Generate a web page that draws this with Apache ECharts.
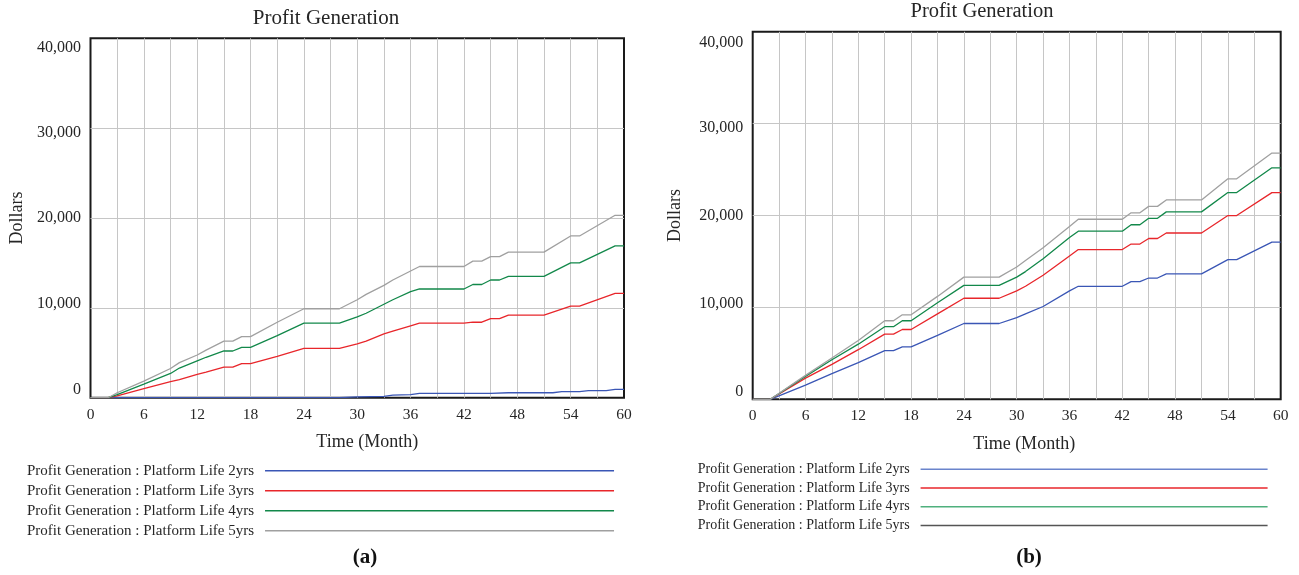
<!DOCTYPE html>
<html>
<head>
<meta charset="utf-8">
<script src="https://cdn.jsdelivr.net/npm/echarts@6/dist/echarts.min.js"></script>
<style>
  html, body { margin: 0; padding: 0; background: #fff; }
  #chart { width: 1299px; height: 575px; }
</style>
</head>
<body>
<div id="chart"></div>
<script>
// ---------- data ----------
const chartTitle = 'Profit Generation';
const xAxisName = 'Time (Month)';
const yAxisName = 'Dollars';
const seriesNames = [
  'Profit Generation : Platform Life 2yrs',
  'Profit Generation : Platform Life 3yrs',
  'Profit Generation : Platform Life 4yrs',
  'Profit Generation : Platform Life 5yrs'
];
const panelLabels = ['(a)', '(b)'];

// Panel (a)
const monthsA = [0,2,3,6,9,10,12,13,15,16,17,18,21,24,28,30,31,33,34,36,37,42,43,44,45,46,47,51,54,55,59,60];
const a3yrs = [0,0,200,1000,1800,2000,2600,2850,3400,3400,3800,3800,4600,5500,5500,6000,6300,7100,7400,8000,8300,8300,8400,8400,8800,8800,9200,9200,10200,10200,11600,11600];
const a4yrs = [0,0,350,1500,2700,3300,4100,4500,5200,5200,5600,5600,6900,8300,8300,9000,9400,10400,10900,11800,12100,12100,12600,12600,13100,13100,13500,13500,15000,15000,16900,16900];
const a5yrs = [0,0,550,1850,3250,3900,4750,5300,6300,6300,6800,6800,8400,9900,9900,10900,11500,12500,13100,14100,14600,14600,15200,15200,15700,15700,16200,16200,18000,18000,20300,20300];
const monthsA2 = [0,28,30,33,34,36,37,45,47,52,53,55,56,58,59,60];
const a2yrs = [0,0,100,150,280,350,480,480,550,550,670,670,780,780,920,920];

// Panel (b)
const monthsB = [0,2,6,9,12,15,16,17,18,21,24,28,30,31,33,36,37,42,43,44,45,46,47,51,54,55,59,60];
const b2yrs = [0,0,1550,2800,4000,5300,5300,5700,5700,6950,8250,8250,8900,9300,10100,11800,12300,12300,12800,12800,13200,13200,13650,13650,15200,15200,17100,17100];
const b3yrs = [0,0,2300,3800,5400,7100,7100,7600,7600,9300,11000,11000,11800,12300,13500,15600,16300,16300,16900,16900,17500,17500,18100,18100,20000,20000,22500,22500];
const b4yrs = [0,0,2500,4300,6000,7900,7900,8550,8550,10500,12400,12400,13300,13900,15300,17600,18300,18300,19000,19000,19700,19700,20400,20400,22500,22500,25200,25200];
const b5yrs = [0,0,2600,4500,6400,8550,8550,9200,9200,11200,13300,13300,14400,15100,16500,18800,19600,19600,20300,20300,21000,21000,21700,21700,24000,24000,26800,26800];

const xTicks = [0,6,12,18,24,30,36,42,48,54,60];
const yTicks = [0,10000,20000,30000,40000];

// ---------- styling ----------
const FONT = "'Liberation Serif', 'Times New Roman', serif";
const TXT = '#262626';
const colors = ['#3a56b5', '#e8262b', '#12884a', '#a0a0a0'];
const legendColorsB = ['#6a84cc', '#e8262b', '#4fb07d', '#555555'];

function zip(xs, ys) { return xs.map((x, i) => [x, ys[i]]); }
function fmt(v) { return v.toLocaleString('en-US'); }

// vertical nudges of y labels (end labels pulled inward, as in the source)
const yShiftA = [-8.4, -4, 0, 4.5, 9.7];
const yShiftB = [-7.6, -4, 0, 4.4, 10.7];
function yRich(shifts) {
  const r = {};
  shifts.forEach((s, i) => {
    const pad = Math.abs(s) * 2;
    r['l' + i] = {
      fontFamily: FONT, fontSize: 16, color: TXT,
      padding: s >= 0 ? [pad, 0, 0, 0] : [0, 0, pad, 0]
    };
  });
  return r;
}

const grids = [
  { left: 90.5, top: 38.3, width: 533.5, height: 359.4 },
  { left: 752.7, top: 31.8, width: 528, height: 367.5 }
];
const GRIDCOL = '#c6c6c6';

function xAxisFor(i, nameShift) {
  return {
    type: 'value', gridIndex: i, min: 0, max: 60, interval: 6,
    name: xAxisName, nameLocation: 'middle', nameGap: 36,
    nameTextStyle: { fontFamily: FONT, fontSize: 18, color: TXT, padding: [0, 0, 0, nameShift] },
    axisLine: { show: false }, axisTick: { show: false },
    axisLabel: {
      fontFamily: FONT, fontSize: 15.5, color: TXT, margin: 9,
      formatter: v => xTicks.includes(v) ? String(v) : ''
    },
    splitLine: { show: true, showMinLine: false, showMaxLine: false, lineStyle: { color: GRIDCOL, width: 1 } },
    minorTick: { show: false, splitNumber: 2 },
    minorSplitLine: { show: true, lineStyle: { color: GRIDCOL, width: 1 } }
  };
}
function yAxisFor(i, shifts, gap) {
  return {
    type: 'value', gridIndex: i, min: 0, max: 40000, interval: 10000,
    name: yAxisName, nameLocation: 'middle', nameGap: gap, nameRotate: 90,
    nameTextStyle: { fontFamily: FONT, fontSize: 18, color: TXT },
    axisLine: { show: false }, axisTick: { show: false },
    axisLabel: {
      margin: 9.5,
      formatter: v => '{l' + yTicks.indexOf(v) + '|' + fmt(v) + '}',
      rich: yRich(shifts)
    },
    splitLine: { show: true, showMinLine: false, showMaxLine: false, lineStyle: { color: GRIDCOL, width: 1 } }
  };
}

function line(name, data, idx, color) {
  return {
    name, type: 'line', xAxisIndex: idx, yAxisIndex: idx, data,
    showSymbol: false, symbol: 'none', animation: false,
    lineStyle: { color, width: 1.3 }, itemStyle: { color },
    emphasis: { disabled: true }
  };
}

const option = {
  backgroundColor: '#fff',
  animation: false,
  title: [
    { text: chartTitle, left: 321, top: 3, textAlign: 'center',
      textStyle: { fontFamily: FONT, fontSize: 21, fontWeight: 'normal', color: TXT } },
    { text: chartTitle, left: 977, top: -4, textAlign: 'center',
      textStyle: { fontFamily: FONT, fontSize: 20.5, fontWeight: 'normal', color: TXT } },
    { text: panelLabels[0], left: 360, top: 542, textAlign: 'center',
      textStyle: { fontFamily: FONT, fontSize: 21, fontWeight: 'bold', color: '#111' } },
    { text: panelLabels[1], left: 1024, top: 542, textAlign: 'center',
      textStyle: { fontFamily: FONT, fontSize: 21, fontWeight: 'bold', color: '#111' } }
  ],
  grid: grids.map(g => Object.assign({ show: true, borderColor: '#1a1a1a', borderWidth: 2, backgroundColor: 'transparent' }, g)),
  xAxis: [xAxisFor(0, 20), xAxisFor(1, 15)],
  yAxis: [yAxisFor(0, yShiftA, 64), yAxisFor(1, yShiftB, 68)],
  legend: [
    {
      orient: 'vertical', left: 27, top: 460.7, align: 'right', padding: 0,
      icon: 'rect', itemWidth: 349, itemHeight: 1.5, itemGap: 0,
      selectedMode: false,
      textStyle: { fontFamily: FONT, fontSize: 15, color: TXT, lineHeight: 20, padding: [0, 6, 0, 0] },
      data: seriesNames.map((n, i) => ({ name: n, itemStyle: { color: colors[i] } }))
    },
    {
      orient: 'vertical', left: 697.7, top: 460, align: 'right', padding: 0,
      icon: 'rect', itemWidth: 347, itemHeight: 1.5, itemGap: 0,
      selectedMode: false,
      textStyle: { fontFamily: FONT, fontSize: 14, color: TXT, lineHeight: 18.7, padding: [0, 6, 0, 0] },
      data: seriesNames.map((n, i) => ({ name: n, itemStyle: { color: legendColorsB[i] } }))
    }
  ],
  series: [
    line(seriesNames[0], zip(monthsA2, a2yrs), 0, colors[0]),
    line(seriesNames[1], zip(monthsA, a3yrs), 0, colors[1]),
    line(seriesNames[2], zip(monthsA, a4yrs), 0, colors[2]),
    line(seriesNames[3], zip(monthsA, a5yrs), 0, colors[3]),
    line(seriesNames[0], zip(monthsB, b2yrs), 1, colors[0]),
    line(seriesNames[1], zip(monthsB, b3yrs), 1, colors[1]),
    line(seriesNames[2], zip(monthsB, b4yrs), 1, colors[2]),
    line(seriesNames[3], zip(monthsB, b5yrs), 1, colors[3])
  ]
};

const chart = echarts.init(document.getElementById('chart'), null, { renderer: 'canvas' });
chart.setOption(option);
</script>
</body>
</html>
